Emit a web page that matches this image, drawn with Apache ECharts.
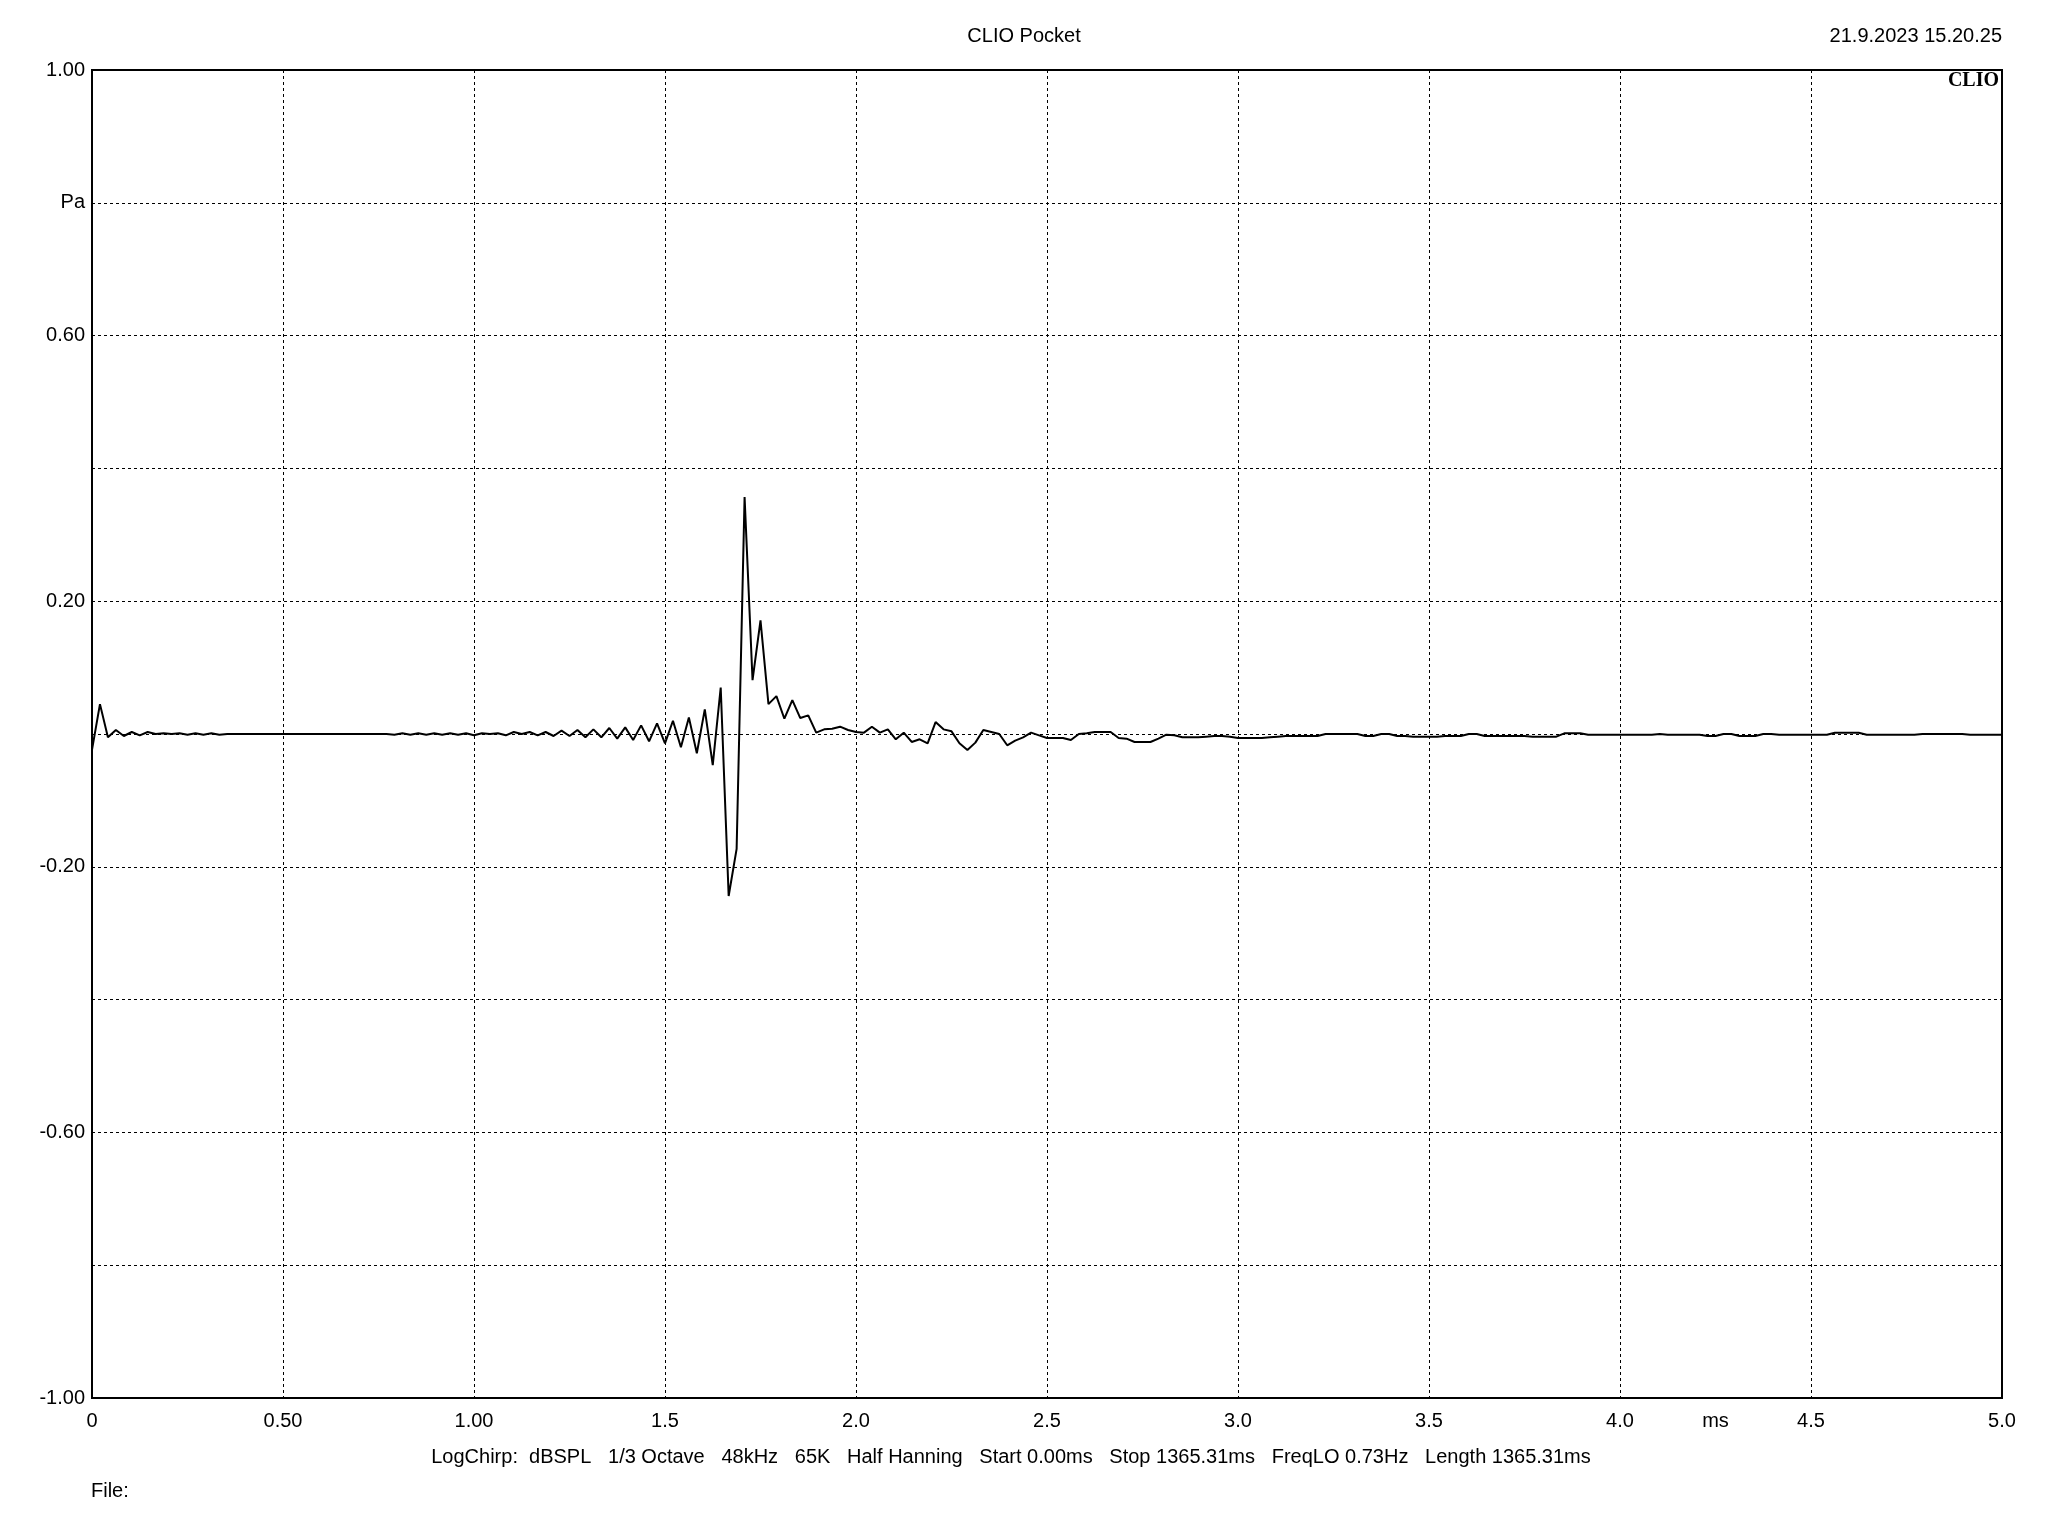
<!DOCTYPE html>
<html>
<head>
<meta charset="utf-8">
<script src="https://cdn.jsdelivr.net/npm/echarts@6/dist/echarts.min.js"></script>
<style>
html,body{margin:0;padding:0;background:#fff;}
#chart{width:2048px;height:1536px;}
</style>
</head>
<body>
<div id="chart"></div>
<script>
// ---- Data ----
const sampleRateKHz = 48; // samples per ms
const pressurePa = [
  -0.024, 0.045, -0.005, 0.006, -0.003, 0.003, -0.002, 0.003, 0.000, 0.001,
   0.000, 0.001, -0.001, 0.001, -0.001, 0.001, -0.001, 0.000, 0.000, 0.000,
   0.000, 0.000, 0.000, 0.000, 0.000, 0.000, 0.000, 0.000, 0.000, 0.000,
   0.000, 0.000, 0.000, 0.000, 0.000, 0.000, 0.000, 0.000, -0.001, 0.001,
  -0.001, 0.001, -0.001, 0.001, -0.001, 0.001, -0.001, 0.001, -0.002, 0.001,
   0.000, 0.001, -0.002, 0.003, 0.000, 0.003, -0.002, 0.003, -0.003, 0.005,
  -0.003, 0.006, -0.005, 0.007, -0.005, 0.009, -0.007, 0.010, -0.009, 0.013,
  -0.011, 0.016, -0.014, 0.020, -0.020, 0.025, -0.029, 0.037, -0.047, 0.070,
  -0.244, -0.173, 0.357, 0.081, 0.171, 0.045, 0.057, 0.023, 0.051, 0.024,
   0.028, 0.002, 0.007, 0.008, 0.011, 0.006, 0.003, 0.002, 0.011, 0.002,
   0.007, -0.008, 0.002, -0.012, -0.008, -0.014, 0.018, 0.007, 0.004, -0.014,
  -0.024, -0.013, 0.006, 0.003, 0.000, -0.017, -0.010, -0.005, 0.002, -0.002,
  -0.006, -0.006, -0.006, -0.009, 0.000, 0.001, 0.003, 0.003, 0.003, -0.006,
  -0.007, -0.012, -0.012, -0.012, -0.007, -0.001, -0.002, -0.005, -0.005, -0.005,
  -0.004, -0.003, -0.003, -0.004, -0.006, -0.006, -0.006, -0.006, -0.005, -0.004,
  -0.003, -0.003, -0.003, -0.003, -0.003, 0.000, 0.000, 0.000, 0.000, 0.000,
  -0.003, -0.003, 0.000, 0.000, -0.003, -0.003, -0.004, -0.004, -0.004, -0.004,
  -0.003, -0.003, -0.003, 0.000, 0.000, -0.003, -0.003, -0.003, -0.003, -0.003,
  -0.003, -0.004, -0.004, -0.004, -0.004, 0.001, 0.001, 0.001, -0.001, -0.001,
  -0.001, -0.001, -0.001, -0.001, -0.001, -0.001, -0.001, 0.000, -0.001, -0.001,
  -0.001, -0.001, -0.001, -0.003, -0.003, 0.000, 0.000, -0.003, -0.003, -0.003,
   0.000, 0.000, -0.001, -0.001, -0.001, -0.001, -0.001, -0.001, -0.001, 0.002,
   0.002, 0.002, 0.002, -0.001, -0.001, -0.001, -0.001, -0.001, -0.001, -0.001,
   0.000, 0.000, 0.000, 0.000, 0.000, 0.000, -0.001, -0.001, -0.001, -0.001,
  -0.001
];
const xTickValues = [0, 0.5, 1.0, 1.5, 2.0, 2.5, 3.0, 3.5, 4.0, 4.5, 5.0];
const xTickLabels = ["0", "0.50", "1.00", "1.5", "2.0", "2.5", "3.0", "3.5", "4.0", "4.5", "5.0"];
const xUnitValue = 4.25;
const xUnitLabel = "ms";
const yTickValues = [1.0, 0.8, 0.6, 0.2, -0.2, -0.6, -1.0];
const yTickLabels = ["1.00", "Pa", "0.60", "0.20", "-0.20", "-0.60", "-1.00"];
const titleText = "CLIO Pocket";
const dateText = "21.9.2023 15.20.25";
const brandText = "CLIO";
const infoText = "LogChirp:  dBSPL   1/3 Octave   48kHz   65K   Half Hanning   Start 0.00ms   Stop 1365.31ms   FreqLO 0.73Hz   Length 1365.31ms";
const fileText = "File:";

// ---- Build ----
const seriesData = pressurePa.map((v, i) => [i / sampleRateKHz, v]);
function lookup(vals, labels, v) {
  for (let k = 0; k < vals.length; k++) if (Math.abs(vals[k] - v) < 1e-6) return labels[k];
  return "";
}
const FONT = '"Liberation Sans", Arial, sans-serif';
const chart = echarts.init(document.getElementById('chart'), null, {renderer: 'canvas'});
const option = {
  backgroundColor: '#fff',
  animation: false,
  textStyle: {fontFamily: FONT},
  grid: {left: 92, right: 46, top: 70, bottom: 138, show: true, borderColor: '#000', borderWidth: 2, backgroundColor: 'transparent'},
  xAxis: [{
    type: 'value', min: 0, max: 5, interval: 0.5, position: 'bottom',
    axisLine: {show: true, onZero: false, lineStyle: {color: '#000', width: 2}},
    axisTick: {show: false},
    axisLabel: {color: '#000', fontSize: 20, fontFamily: FONT, margin: 13,
      formatter: v => lookup(xTickValues, xTickLabels, v)},
    splitLine: {show: true, lineStyle: {color: '#000', width: 1, type: [3, 3]}}
  }, {
    type: 'value', min: 0, max: 5, interval: 0.25, position: 'bottom', offset: 0,
    axisLine: {show: false}, axisTick: {show: false}, splitLine: {show: false},
    axisLabel: {color: '#000', fontSize: 20, fontFamily: FONT, margin: 13,
      formatter: v => (Math.abs(v - xUnitValue) < 1e-6 ? xUnitLabel : "")}
  }],
  yAxis: {
    type: 'value', min: -1, max: 1, interval: 0.2,
    axisLine: {show: true, onZero: false, lineStyle: {color: '#000', width: 2}},
    axisTick: {show: false},
    axisLabel: {color: '#000', fontSize: 20, fontFamily: FONT, margin: 7,
      formatter: v => lookup(yTickValues, yTickLabels, v)},
    splitLine: {show: true, lineStyle: {color: '#000', width: 1, type: [3, 3]}}
  },
  series: [{
    type: 'line', xAxisIndex: 0, data: seriesData, showSymbol: false, symbol: 'none',
    lineStyle: {color: '#000', width: 2}, silent: true
  }],
  graphic: [
    {type: 'text', left: 'center', top: 26, style: {text: titleText, fill: '#000', font: '20px ' + FONT}},
    {type: 'text', right: 46, top: 26, style: {text: dateText, fill: '#000', font: '20px ' + FONT}},
    {type: 'text', right: 49, top: 71, z: 10, style: {text: brandText, fill: '#000', font: 'bold 20px "Liberation Serif", "Times New Roman", serif'}},
    {type: 'text', x: 1011, y: 1457, style: {text: infoText, fill: '#000', font: '20px ' + FONT, align: 'center', verticalAlign: 'middle'}},
    {type: 'text', x: 91, y: 1491, style: {text: fileText, fill: '#000', font: '20px ' + FONT, align: 'left', verticalAlign: 'middle'}}
  ]
};
chart.setOption(option);
</script>
</body>
</html>
